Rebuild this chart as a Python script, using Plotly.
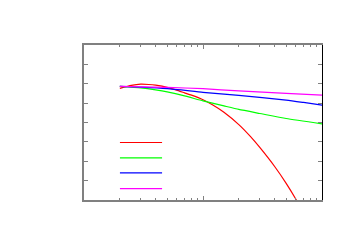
import plotly.graph_objects as go

# ---- data ----
x_magenta = [2, 3, 5, 10, 20, 50, 100]
y_magenta = [5.863, 5.842, 5.811, 5.744, 5.630, 5.501, 5.413]

x_blue = [2, 3, 5, 10, 20, 50, 70, 100]
y_blue = [5.863, 5.821, 5.744, 5.558, 5.397, 5.159, 5.035, 4.895]

x_green = [2, 3, 4, 5, 7, 10, 15, 20, 30, 50, 100]
y_green = [5.863, 5.785, 5.682, 5.578, 5.371, 5.113, 4.854, 4.673, 4.466, 4.207, 3.933]

x_red = [2, 2.5, 3, 3.5, 4, 5, 6, 7, 8, 10, 12, 15, 20, 25, 30, 40, 50, 60, 65]
y_red = [5.759, 5.915, 5.977, 5.961, 5.925, 5.816, 5.670, 5.530, 5.410, 5.175, 4.916,
         4.528, 3.891, 3.281, 2.712, 1.728, 0.859, 0.062, -0.326]

series = [
    ("red", x_red, y_red, "#ff0000"),
    ("green", x_green, y_green, "#00ff00"),
    ("blue", x_blue, y_blue, "#0000ff"),
    ("magenta", x_magenta, y_magenta, "#ff00ff"),
]

x_range_log = [0, 2]
y_range = [0, 8]
x_major = [10]
x_minor = [2, 3, 4, 5, 6, 7, 8, 9, 20, 30, 40, 50, 60, 70, 80, 90]

fig = go.Figure()
for name, xs, ys, col in series:
    fig.add_trace(go.Scatter(x=xs, y=ys, mode="lines", name=name,
                             line=dict(color=col, width=1.2, shape="spline", smoothing=0.5),
                             showlegend=False))

# legend key samples (no titles), in paper coordinates
key_x0, key_x1 = 0.151, 0.328
key_ys = [0.371, 0.272, 0.175, 0.073]
for (name, xs, ys, col), ky in zip(series, key_ys):
    fig.add_shape(type="line", xref="paper", yref="paper", x0=key_x0, x1=key_x1,
                  y0=ky, y1=ky, line=dict(color=col, width=1.2))

gray = "#808080"
fig.update_layout(
    width=350, height=250,
    margin=dict(l=84, r=28, t=45, b=50),
    paper_bgcolor="white", plot_bgcolor="white",
    xaxis=dict(type="log", range=x_range_log, showgrid=False, zeroline=False,
               showline=True, linecolor=gray, linewidth=2, mirror="ticks",
               ticks="inside", tickvals=x_major, ticklen=4, tickcolor=gray, tickwidth=1,
               showticklabels=False,
               minor=dict(tickvals=x_minor, ticks="inside", ticklen=2,
                          tickcolor=gray, tickwidth=1, showgrid=False)),
    yaxis=dict(range=y_range, dtick=1, showgrid=False, zeroline=False,
               showline=True, linecolor=gray, linewidth=2, mirror=False,
               ticks="inside", ticklen=4, tickcolor=gray, tickwidth=1,
               showticklabels=False),
    yaxis2=dict(range=y_range, dtick=1, overlaying="y", side="right",
                showgrid=False, zeroline=False, showline=True, linecolor="black",
                linewidth=1, ticks="inside", ticklen=4, tickcolor=gray, tickwidth=1,
                showticklabels=False),
)
# invisible trace to activate the right-hand axis
fig.add_trace(go.Scatter(x=[10], y=[4], yaxis="y2", mode="markers",
                         marker=dict(opacity=0), showlegend=False, hoverinfo="skip"))

fig.write_html("out.html",
               config={"displayModeBar": False},
               post_script="document.body.style.margin='0';document.body.style.overflow='hidden';")
